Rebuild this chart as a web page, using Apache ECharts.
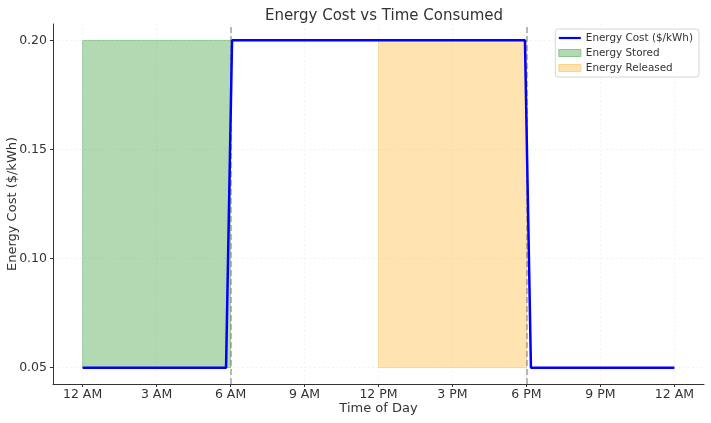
<!DOCTYPE html>
<html><head><meta charset="utf-8">
<script src="https://cdn.jsdelivr.net/npm/echarts@6/dist/echarts.min.js"></script>
<style>html,body{margin:0;padding:0;background:#fff}#c{width:711px;height:423px}</style>
</head><body><div id="c"></div>
<script>
// Hours of day (0 = 12 AM) at the sampled points around the transitions
const hours = [0, 5.818, 6.061, 17.939, 18.182, 24];
const cost = [0.05, 0.05, 0.20, 0.20, 0.05, 0.05];
const xTicks = [0, 3, 6, 9, 12, 15, 18, 21, 24];
const xTickLabels = ['12 AM', '3 AM', '6 AM', '9 AM', '12 PM', '3 PM', '6 PM', '9 PM', '12 AM'];
const yTicks = [0.05, 0.10, 0.15, 0.20];
const storedRange = [0, 6];
const releasedRange = [12, 18];
const bandLow = 0.05, bandHigh = 0.20;
const peakMarkers = [6, 18];

const font = 'DejaVu Sans';
const chart = echarts.init(document.getElementById('c'), null, {renderer: 'canvas'});
const gridLine = {show: true, lineStyle: {color: '#ebebeb', type: [1.5, 3], width: 0.8}};
chart.setOption({
  animation: false,
  textStyle: {fontFamily: font},
  title: {text: 'Energy Cost vs Time Consumed', left: 379, textAlign: 'center', top: 4,
    textStyle: {fontFamily: font, fontSize: 15, fontWeight: 'normal', color: '#333'}},
  grid: {left: 53, right: 7, top: 24, bottom: 39, containLabel: false, outerBoundsMode: 'none'},
  legend: {
    orient: 'vertical', right: 12, top: 29, padding: [4, 6, 4, 3],
    backgroundColor: '#fff', borderColor: '#d6d6d6', borderWidth: 1, borderRadius: 3,
    itemWidth: 22, itemHeight: 7, itemGap: 5,
    textStyle: {fontFamily: font, fontSize: 10.4, color: '#333'},
    data: [
      {name: 'Energy Cost ($/kWh)', icon: 'path://M0,0 L22,0 L22,2.2 L0,2.2 Z', itemStyle: {color: '#0000ff'}},
      {name: 'Energy Stored', icon: 'rect', itemStyle: {color: '#b3d9b3', borderColor: '#8cc48c', borderWidth: 1}},
      {name: 'Energy Released', icon: 'rect', itemStyle: {color: '#ffe4b3', borderColor: '#ffd28a', borderWidth: 1}}
    ]
  },
  xAxis: {
    type: 'value', min: -1.2, max: 25.2,
    name: 'Time of Day', nameLocation: 'middle', nameGap: 18, nameMoveOverlap: false,
    nameTextStyle: {fontFamily: font, fontSize: 13, color: '#333'},
    axisLine: {show: true, onZero: false, lineStyle: {color: '#333', width: 1}},
    axisTick: {show: true, length: 3, customValues: xTicks, lineStyle: {color: '#333'}},
    axisLabel: {customValues: xTicks, margin: 4, fontSize: 12.5, color: '#333', fontFamily: font,
      formatter: v => xTickLabels[xTicks.indexOf(Math.round(v))]},
    splitLine: gridLine
  },
  yAxis: {
    type: 'value', min: 0.0425, max: 0.2075,
    name: 'Energy Cost ($/kWh)', nameLocation: 'middle', nameGap: 34, nameMoveOverlap: false,
    nameTextStyle: {fontFamily: font, fontSize: 13, color: '#333'},
    axisLine: {show: true, onZero: false, lineStyle: {color: '#333', width: 1}},
    axisTick: {show: true, length: 3, customValues: yTicks, lineStyle: {color: '#333'}},
    axisLabel: {customValues: yTicks, margin: 6, fontSize: 12.5, color: '#333', fontFamily: font,
      formatter: v => v.toFixed(2)},
    splitLine: gridLine
  },
  series: [
    {
      name: 'Energy Stored', type: 'line', data: [], itemStyle: {color: '#b3d9b3'},
      markArea: {silent: true,
        itemStyle: {color: 'rgba(0,128,0,0.3)', borderColor: 'rgba(0,128,0,0.25)', borderWidth: 1},
        data: [[{xAxis: storedRange[0], yAxis: bandLow}, {xAxis: storedRange[1], yAxis: bandHigh}]]}
    },
    {
      name: 'Energy Released', type: 'line', data: [], itemStyle: {color: '#ffe4b3'},
      markArea: {silent: true,
        itemStyle: {color: 'rgba(255,165,0,0.3)', borderColor: 'rgba(255,165,0,0.25)', borderWidth: 1},
        data: [[{xAxis: releasedRange[0], yAxis: bandLow}, {xAxis: releasedRange[1], yAxis: bandHigh}]]}
    },
    {
      name: 'Energy Cost ($/kWh)', type: 'line', showSymbol: false, z: 5,
      data: hours.map((h, i) => [h, cost[i]]),
      lineStyle: {color: '#0000ff', width: 2.5}, itemStyle: {color: '#0000ff'},
      markLine: {silent: true, symbol: ['none', 'none'], label: {show: false},
        lineStyle: {color: 'rgba(128,128,128,0.75)', type: [6, 3], width: 1.5},
        data: peakMarkers.map(x => ({xAxis: x}))}
    }
  ]
});
</script></body></html>
